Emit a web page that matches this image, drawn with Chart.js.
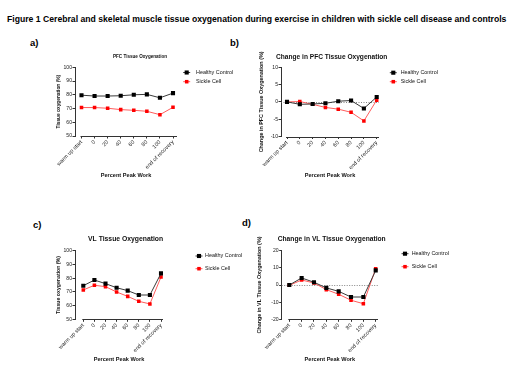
<!DOCTYPE html>
<html><head><meta charset="utf-8">
<script src="https://cdn.jsdelivr.net/npm/chart.js@4/dist/chart.umd.min.js"></script>
<style>
html,body{margin:0;padding:0;background:#fff;}
#fig{position:relative;width:520px;height:390px;overflow:hidden;font-family:"Liberation Sans",Arial,sans-serif;background:#fff;}
#fig canvas{position:absolute;}
.lab{position:absolute;font-weight:bold;font-size:9.5px;line-height:10px;color:#000;}
#ftitle{position:absolute;left:7px;top:15px;font-weight:bold;white-space:nowrap;line-height:1;color:#000;}
</style></head><body>
<div id="fig">
  <div id="ftitle">Figure 1 Cerebral and skeletal muscle tissue oxygenation during exercise in children with sickle cell disease and controls</div>
  <div class="lab" style="left:30px;top:38px">a)</div>
  <div class="lab" style="left:230px;top:38px">b)</div>
  <div class="lab" style="left:33px;top:220px">c)</div>
  <div class="lab" style="left:242px;top:218px">d)</div>
  <canvas id="ca"></canvas>
  <canvas id="cb"></canvas>
  <canvas id="cc"></canvas>
  <canvas id="cd"></canvas>
</div>
<script>
// ---------- data ----------
const categories = ["warm up start", "0", "20", "40", "60", "80", "100", "end of recovery"];
const seriesNames = ["Healthy Control", "Sickle Cell"];

const pfcHealthy = [79.7, 79.1, 79.1, 79.3, 80.0, 80.3, 77.8, 81.2];
const pfcSickle  = [70.7, 70.7, 70.2, 69.2, 68.7, 68.0, 65.5, 70.9];

const pfcChangeHealthy = [0.0, -0.7, -0.6, -0.4, 0.2, 0.4, -1.9, 1.4];
const pfcChangeSickle  = [0.0, 0.1, -0.7, -1.6, -2.1, -3.0, -5.5, 0.5];

const vlHealthy = [74.5, 78.6, 76.0, 73.0, 70.9, 67.7, 67.7, 83.5];
const vlSickle  = [71.4, 74.8, 73.8, 69.9, 66.7, 63.1, 61.2, 80.8];

const vlChangeHealthy = [0.0, 4.1, 1.6, -1.7, -3.7, -7.0, -7.0, 8.5];
const vlChangeSickle  = [-0.2, 2.9, 1.2, -2.7, -5.4, -8.9, -10.9, 9.5];

const tissueTicks = [50, 60, 70, 80, 90, 100];
const pfcChangeTicks = [-10, -5, 0, 5, 10];
const vlChangeTicks = [-20, -10, 0, 10, 20];

// ---------- styling / layout ----------
const FONT = '"Liberation Sans", Arial, sans-serif';
const XTICK_FONT = 5.5;
const YTICK_FONT = 5.1;
const XTITLE_FONT = 5.6;

// fit figure title
(function(){
  const t = document.getElementById('ftitle');
  const c = document.createElement('canvas').getContext('2d');
  c.font = 'bold 10px ' + FONT;
  const w = c.measureText(t.textContent).width;
  const size = 10 * 500 / w;
  t.style.fontSize = size + 'px';
  t.style.top = (20 - size * 0.55) + 'px';
})();

const panels = [
  { id: 'ca', healthy: pfcHealthy, sickle: pfcSickle, yTicks: tissueTicks, zero: false,
    title: 'PFC Tissue Oxygenation', titleFont: 'bold 4.6px', yTitle: 'Tissue oxygenation (%)', yTitleSize: 4.8,
    geo: { L: 0, T: 30, W: 255, H: 165, al: 75, at: 67.3, ar: 177, ab: 136, px0: 81.5, px7: 173,
           yTitleX: 59, xTitleY: 175, tx: 140, ty: 56.7, lx: 186.7, ltx: 196, ly1: 72.5, ly2: 81.7 } },
  { id: 'cb', healthy: pfcChangeHealthy, sickle: pfcChangeSickle, yTicks: pfcChangeTicks, zero: true,
    title: 'Change in PFC Tissue Oxygenation', titleFont: 'bold 6.6px', yTitle: 'Change in PFC Tissue Oxygenation (%)', yTitleSize: 5.4,
    geo: { L: 255, T: 30, W: 265, H: 165, al: 281, at: 67.3, ar: 379, ab: 136.5, px0: 287, px7: 376.7,
           yTitleX: 262, xTitleY: 175.7, tx: 331.7, ty: 56.7, lx: 393.3, ltx: 400.7, ly1: 72.7, ly2: 81.7 } },
  { id: 'cc', healthy: vlHealthy, sickle: vlSickle, yTicks: tissueTicks, zero: false,
    title: 'VL Tissue Oxygenation', titleFont: 'bold 6.8px', yTitle: 'Tissue oxygenation (%)', yTitleSize: 5.2,
    geo: { L: 0, T: 210, W: 255, H: 175, al: 75, at: 250.7, ar: 163, ab: 319.3, px0: 83.3, px7: 161,
           yTitleX: 58.5, xTitleY: 359, tx: 125.6, ty: 239, lx: 199, ltx: 205, ly1: 256, ly2: 268.7 } },
  { id: 'cd', healthy: vlChangeHealthy, sickle: vlChangeSickle, yTicks: vlChangeTicks, zero: true,
    title: 'Change in VL Tissue Oxygenation', titleFont: 'bold 6.7px', yTitle: 'Change in VL Tissue Oxygenation (%)', yTitleSize: 5.4,
    geo: { L: 255, T: 210, W: 265, H: 175, al: 281.7, at: 250.7, ar: 378, ab: 319.3, px0: 289.3, px7: 375.7,
           yTitleX: 260, xTitleY: 359, tx: 331.7, ty: 239, lx: 405, ltx: 411.7, ly1: 253.7, ly2: 266.7 } }
];

const decor = {
  id: 'decor',
  beforeDatasetsDraw(chart, args, o) {
    const ctx = chart.ctx, a = chart.chartArea, xs = chart.scales.x, ys = chart.scales.y;
    ctx.save();
    if (o.zero) {
      const y = Math.round(ys.getPixelForValue(0)) + 0.5;
      ctx.strokeStyle = '#666'; ctx.lineWidth = 0.8; ctx.setLineDash([1, 1.5]);
      ctx.beginPath(); ctx.moveTo(a.left, y); ctx.lineTo(a.right, y); ctx.stroke();
      ctx.setLineDash([]);
    }
    // detached x axis line
    const yb = Math.round(a.bottom) + 0.5;
    ctx.strokeStyle = '#333'; ctx.lineWidth = 1;
    ctx.beginPath(); ctx.moveTo(xs.getPixelForValue(0) - 1, yb); ctx.lineTo(a.right, yb); ctx.stroke();
    ctx.restore();
  },
  afterDraw(chart, args, o) {
    const ctx = chart.ctx;
    ctx.save();
    // chart title
    ctx.fillStyle = '#111';
    ctx.font = o.titleFont + ' ' + FONT;
    ctx.textAlign = 'center'; ctx.textBaseline = 'middle';
    ctx.fillText(o.title, o.tx, o.ty);
    // legend
    ctx.textAlign = 'left';
    ctx.font = '5.4px ' + FONT;
    chart.data.datasets.forEach((ds, i) => {
      const y = i === 0 ? o.ly1 : o.ly2;
      ctx.strokeStyle = ds.borderColor; ctx.lineWidth = 1;
      ctx.beginPath(); ctx.moveTo(o.lx - 3.5, y); ctx.lineTo(o.lx + 3.5, y); ctx.stroke();
      const s = ds.pointRadius * Math.SQRT1_2;
      ctx.fillStyle = ds.backgroundColor;
      ctx.fillRect(o.lx - s, y - s, 2 * s, 2 * s);
      ctx.fillStyle = '#111';
      ctx.fillText(ds.label, o.ltx, y);
    });
    ctx.restore();
  }
};

function makeChart(p) {
  const g = p.geo;
  const cv = document.getElementById(p.id);
  cv.width = g.W; cv.height = g.H;
  cv.style.left = g.L + 'px'; cv.style.top = g.T + 'px';
  cv.style.width = g.W + 'px'; cv.style.height = g.H + 'px';

  const lhY = p.yTitleSize * 1.2, lhX = XTITLE_FONT * 1.2;
  const yScaleLeft = g.yTitleX - lhY / 2;
  const xScaleBottom = g.xTitleY + lhX / 2;
  const pad = { left: yScaleLeft - g.L, top: g.at - g.T, right: g.L + g.W - g.ar, bottom: g.T + g.H - xScaleBottom };
  const yW = g.al - yScaleLeft, xH = xScaleBottom - g.ab;
  const sp = (g.px7 - g.px0) / 7;
  const xmin = -(g.px0 - g.al) / sp, xmax = 7 + (g.ar - g.px7) / sp;

  new Chart(cv, {
    type: 'line',
    data: {
      datasets: [
        { label: seriesNames[0], data: p.healthy.map((v, i) => ({ x: i, y: v })),
          borderColor: '#3a3a3a', backgroundColor: '#000', borderWidth: 1,
          pointStyle: 'rect', pointRadius: 2.9, pointBorderWidth: 0, tension: 0 },
        { label: seriesNames[1], data: p.sickle.map((v, i) => ({ x: i, y: v })),
          borderColor: '#ff5c5c', backgroundColor: '#ff0000', borderWidth: 1,
          pointStyle: 'rect', pointRadius: 2.5, pointBorderWidth: 0, tension: 0 }
      ]
    },
    options: {
      responsive: false, animation: false, devicePixelRatio: 1,
      layout: { padding: pad },
      plugins: {
        legend: { display: false }, tooltip: { enabled: false }, title: { display: false },
        decor: { zero: p.zero, title: p.title, titleFont: p.titleFont,
                 tx: g.tx - g.L, ty: g.ty - g.T, lx: g.lx - g.L, ltx: g.ltx - g.L, ly1: g.ly1 - g.T, ly2: g.ly2 - g.T }
      },
      scales: {
        x: {
          type: 'linear', min: xmin, max: xmax,
          afterBuildTicks: s => { s.ticks = categories.map((c, i) => ({ value: i })); },
          afterFit: s => { s.height = xH; },
          ticks: { autoSkip: false, minRotation: 45, maxRotation: 45, padding: 0.5,
                   font: { family: FONT, size: XTICK_FONT }, color: '#222',
                   callback: v => categories[v] },
          grid: { drawOnChartArea: false, drawTicks: true, tickLength: 2.5, tickColor: '#333', tickWidth: 1 },
          border: { display: false },
          title: { display: true, text: 'Percent Peak Work', color: '#111', padding: 0,
                   font: { family: FONT, size: XTITLE_FONT, weight: 'bold', lineHeight: 1.2 } }
        },
        y: {
          min: p.yTicks[0], max: p.yTicks[p.yTicks.length - 1],
          afterBuildTicks: s => { s.ticks = p.yTicks.map(v => ({ value: v })); },
          afterFit: s => { s.width = yW; },
          ticks: { padding: 0.5, font: { family: FONT, size: YTICK_FONT }, color: '#222' },
          grid: { drawOnChartArea: false, drawTicks: true, tickLength: 2.5, tickColor: '#333', tickWidth: 1 },
          border: { display: true, color: '#333', width: 1 },
          title: { display: true, text: p.yTitle, color: '#111', padding: 0,
                   font: { family: FONT, size: p.yTitleSize, weight: 'bold', lineHeight: 1.2 } }
        }
      }
    },
    plugins: [decor]
  });
}

panels.forEach(makeChart);
</script>
</body></html>
